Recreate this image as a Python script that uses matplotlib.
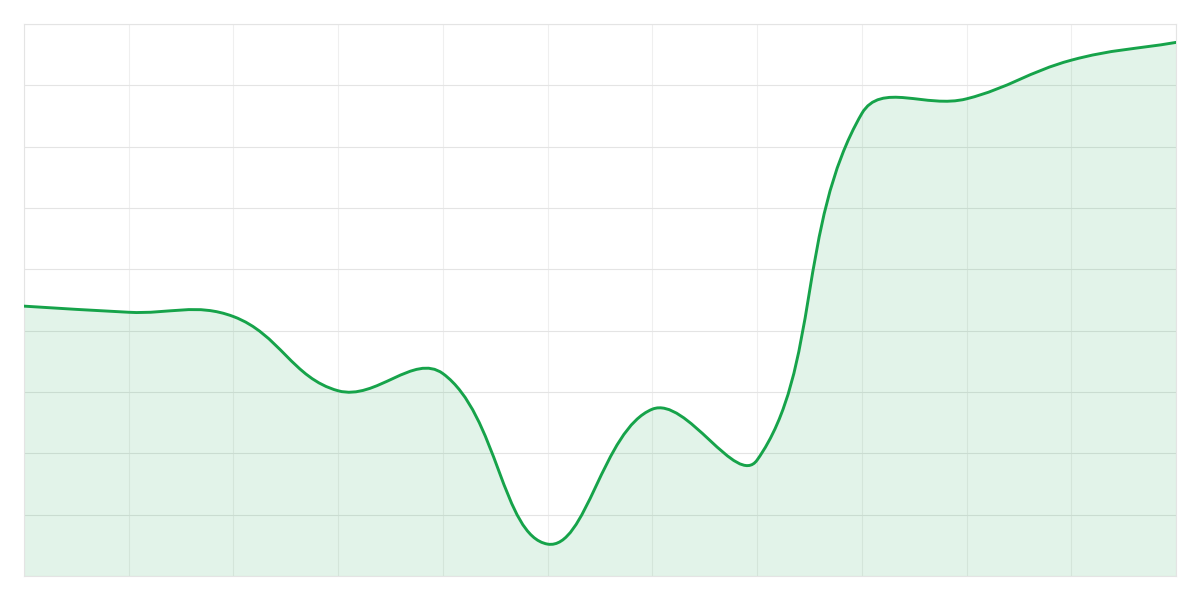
import matplotlib
matplotlib.use("Agg")
import matplotlib.pyplot as plt
import numpy as np
from matplotlib.path import Path
from matplotlib.patches import PathPatch

# Data
categories = list(range(12))
values = [44.0, 43.0, 42.3, 30.2, 33.0, 5.2, 27.2, 18.9, 75.4, 77.8, 84.1, 87.0]
y_min, y_max, y_step = 0, 90, 10

line_color = "#16a34a"
fill_color = (22/255, 163/255, 74/255, 0.12)
tension = 0.4

W, H = 1200, 600
fig = plt.figure(figsize=(12, 6), dpi=100)
ax = fig.add_axes([24/W, 24/H, 1152/W, 552/H])
ax.set_xlim(0, len(categories) - 1)
ax.set_ylim(y_min, y_max)

# pixel scale for spline computation (Chart.js-like spline in screen space)
sx = 1152 / (len(categories) - 1)
sy = 552 / (y_max - y_min)
px = np.array(categories, float) * sx
py = np.array(values, float) * sy
n = len(px)
cps_prev, cps_next = [], []
for i in range(n):
    prev_i = max(i - 1, 0)
    next_i = min(i + 1, n - 1)
    d01 = np.hypot(px[i] - px[prev_i], py[i] - py[prev_i])
    d12 = np.hypot(px[next_i] - px[i], py[next_i] - py[i])
    s01 = d01 / (d01 + d12)
    s12 = d12 / (d01 + d12)
    fa, fb = tension * s01, tension * s12
    dx, dy = px[next_i] - px[prev_i], py[next_i] - py[prev_i]
    cps_prev.append((px[i] - fa * dx, py[i] - fa * dy))
    cps_next.append((px[i] + fb * dx, py[i] + fb * dy))

verts = [(px[0], py[0])]
codes = [Path.MOVETO]
for i in range(n - 1):
    verts += [cps_next[i], cps_prev[i + 1], (px[i + 1], py[i + 1])]
    codes += [Path.CURVE4] * 3
verts = [(x / sx, y / sy) for x, y in verts]

line_path = Path(verts, codes)
fill_verts = verts + [(categories[-1], y_min), (categories[0], y_min), verts[0]]
fill_codes = codes + [Path.LINETO, Path.LINETO, Path.CLOSEPOLY]
fill_path = Path(fill_verts, fill_codes)

ax.add_patch(PathPatch(fill_path, facecolor=fill_color, edgecolor="none", zorder=1))
ax.add_patch(PathPatch(line_path, facecolor="none", edgecolor=line_color, lw=2.1,
                       capstyle="round", joinstyle="round", zorder=3))

ax.set_xticks(categories)
ax.set_yticks(np.arange(y_min, y_max + y_step, y_step))
ax.tick_params(length=0, labelleft=False, labelbottom=False)
ax.grid(axis="x", color="#efefef", lw=0.8, zorder=0)
ax.grid(axis="y", color="#e4e4e4", lw=0.8, zorder=0)
ax.set_axisbelow(True)
for s in ax.spines.values():
    s.set_color("#e4e4e4")
    s.set_linewidth(0.8)

fig.savefig("out.png", dpi=100)
